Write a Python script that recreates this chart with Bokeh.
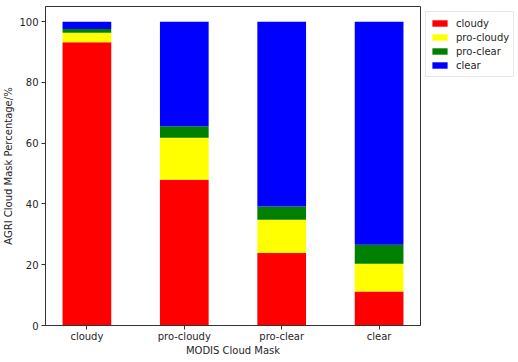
from bokeh.plotting import figure
from bokeh.models import Range1d, FixedTicker, Legend, LegendItem, ColumnDataSource
from bokeh.embed import file_html
from bokeh.resources import INLINE

categories = ["cloudy", "pro-cloudy", "pro-clear", "clear"]
series_names = ["cloudy", "pro-cloudy", "pro-clear", "clear"]
cloudy_vals = [93.2, 48.0, 23.9, 11.2]
procloudy_vals = [3.2, 13.8, 10.9, 9.1]
proclear_vals = [1.2, 3.8, 4.4, 6.3]
clear_vals = [2.4, 34.4, 60.8, 73.4]
colors = ["#ff0000", "#ffff00", "#008000", "#0000ff"]
y_ticks = [0, 20, 40, 60, 80, 100]

FONT = "DejaVu Sans"
TXT = "#262626"

x = list(range(len(categories)))
src = ColumnDataSource(dict(x=x, cloudy=cloudy_vals, procloudy=procloudy_vals,
                            proclear=proclear_vals, clear=clear_vals))
keys = ["cloudy", "procloudy", "proclear", "clear"]

p = figure(frame_width=375, frame_height=319, output_backend="svg", toolbar_location=None,
           x_range=Range1d(-0.425, len(categories) - 1 + 0.425), y_range=Range1d(0, 105),
           min_border_top=6, min_border_left=0, min_border_bottom=0, min_border_right=0)

renderers = p.vbar_stack(keys, x="x", width=0.5, color=colors, line_color=None, source=src)

p.xgrid.visible = False
p.ygrid.visible = False
p.outline_line_color = "#333333"
p.outline_line_width = 1
p.outline_line_alpha = 1

for ax in (p.xaxis[0], p.yaxis[0]):
    ax.axis_line_color = "#333333"
    ax.major_tick_line_color = "#333333"
    ax.major_tick_out = 4
    ax.major_tick_in = 0
    ax.minor_tick_line_color = None
    ax.major_label_text_font = FONT
    ax.major_label_text_font_size = "10px"
    ax.major_label_text_color = TXT
    ax.major_label_text_line_height = 0.9
    ax.axis_label_text_font = FONT
    ax.axis_label_text_font_size = "10px"
    ax.axis_label_text_font_style = "normal"
    ax.axis_label_text_color = TXT
    ax.axis_label_text_line_height = 0.9
    ax.major_label_standoff = 3
    ax.axis_label_standoff = 2

p.xaxis.ticker = FixedTicker(ticks=x)
p.xaxis.major_label_overrides = {i: c for i, c in zip(x, categories)}
p.yaxis.ticker = FixedTicker(ticks=y_ticks)
p.xaxis.axis_label = "MODIS Cloud Mask"
p.yaxis.axis_label = "AGRI Cloud Mask Percentage/%"
p.xaxis.axis_label_standoff = 0
p.xaxis.major_label_standoff = 1

legend = Legend(items=[LegendItem(label=n, renderers=[r]) for n, r in zip(series_names, renderers)],
                location="top_left")
legend.margin = 5
legend.padding = 4
legend.spacing = 0
legend.glyph_width = 19
legend.glyph_height = 8
legend.label_height = 14
legend.label_standoff = 7
legend.label_text_font = FONT
legend.label_text_font_size = "10px"
legend.label_text_color = TXT
legend.border_line_color = "#d0d0d0"
legend.border_line_width = 1
legend.background_fill_color = "white"
p.add_layout(legend, "right")

open("out.html", "w").write(file_html(p, INLINE))
